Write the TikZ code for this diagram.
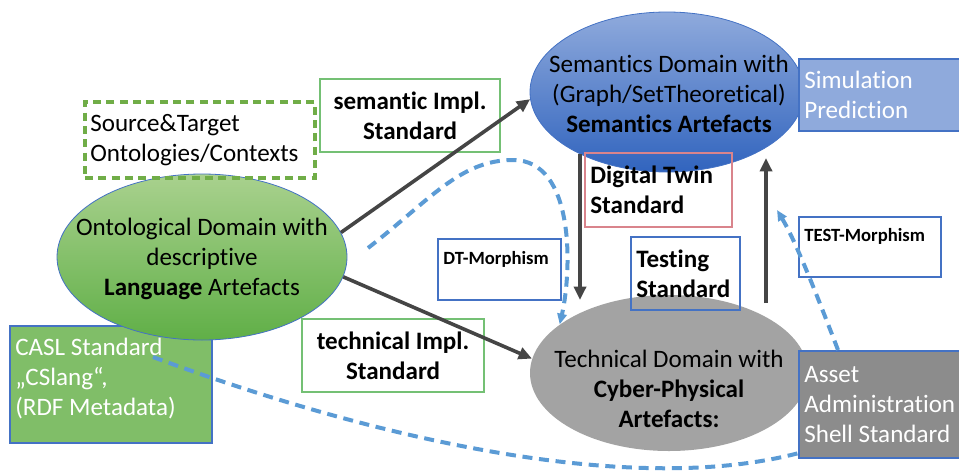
\documentclass[tikz,border=0pt]{standalone}
\usepackage{fontspec}
\setmainfont{Carlito}[Ligatures={NoCommon}]
\usetikzlibrary{shapes.geometric}
\usetikzlibrary{arrows.meta}

\definecolor{semtop}{HTML}{8FAADC}
\definecolor{semmid}{HTML}{7C9BD6}
\definecolor{sembot}{HTML}{3164BE}
\definecolor{onttop}{HTML}{A9D18E}
\definecolor{ontmid}{HTML}{8CC473}
\definecolor{ontbot}{HTML}{60AF47}
\definecolor{tecgray}{HTML}{A3A3A3}
\definecolor{aasgray}{HTML}{8C8C8C}
\definecolor{caslgreen}{HTML}{80BE68}
\definecolor{boxblue}{HTML}{4472C4}
\definecolor{boxgreen}{HTML}{74C074}
\definecolor{dashgreen}{HTML}{70AD47}
\definecolor{boxred}{HTML}{D9848C}
\definecolor{dashblue}{HTML}{5B9BD5}
\definecolor{arrgray}{HTML}{454545}

\begin{document}
\begin{tikzpicture}[x=0.75pt, y=-0.75pt,
    ellip/.style={ellipse, draw=boxblue, line width=0.6pt, inner sep=0pt},
    txt/.style={align=flush center, font=\fontsize{18.8}{22.5}\selectfont},
    bx/.style={rectangle, line width=1.1pt, inner xsep=4pt, inner ysep=0pt, align=flush left,
        font=\fontsize{18.8}{22.5}\selectfont},
    bbx/.style={bx, font=\fontsize{18.8}{22.5}\selectfont\bfseries},
    smallbx/.style={bx, font=\fontsize{14}{18}\selectfont\bfseries},
    flow/.style={-{Triangle[length=10pt,width=9pt]}, line width=2.7pt, draw=arrgray},
    morph/.style={dash pattern=on 7.5pt off 5pt, line width=3pt, draw=dashblue},
    morphtip/.style={-{Triangle[length=8pt,width=7pt]}}
    ]
    \useasboundingbox (0,0) rectangle (959,471);

    % CASL box (below the ontological ellipse)
    \node[bx, draw=boxblue, fill=caslgreen, text=white, text width=143.5pt, minimum height=87.75pt] (casl) at (111,384.5)
        {CASL Standard\\„CSlang“,\\(RDF Metadata)\\[-11pt]\mbox{}};

    % Domains
    \node[ellip, top color=semtop, middle color=semmid, bottom color=sembot, minimum width=205.5pt, minimum height=120pt] (sem) at (667,92) {};
    \node[ellip, top color=onttop, middle color=ontmid, bottom color=ontbot, minimum width=217.5pt, minimum height=124.5pt] (ont) at (202,257) {};
    \node[ellip, draw=none, fill=tecgray, minimum width=208.5pt, minimum height=117pt] (tec) at (669,373) {};

    \node[txt] (semtxt) at (669,94) {Semantics Domain with\\(Graph/SetTheoretical)\\\textbf{Semantics Artefacts}};
    \node[txt] (onttxt) at (202,259) {Ontological Domain with\\descriptive\\\textbf{Language} Artefacts};
    \node[txt] (tectxt) at (669,389) {Technical Domain with\\\textbf{Cyber-Physical}\\\textbf{Artefacts:}};

    % Side boxes
    \node[bx, draw=boxblue, fill=semtop, text=white, text width=116.5pt, minimum height=54pt] (sim) at (882,95)
        {Simulation\\Prediction};
    \node[bx, draw=boxblue, fill=aasgray, text=white, text width=116.5pt, minimum height=80.25pt] (aas) at (882,404.5)
        {Asset\\Administration\\Shell Standard};

    % Standards
    \node[bx, draw=dashgreen, line width=3pt, dash pattern=on 6pt off 4pt, text width=164.5pt, minimum height=57pt] (src) at (200,140)
        {Source\&Target\\Ontologies/Contexts};
    \node[bbx, draw=boxgreen, align=flush center, text width=127pt, minimum height=54.75pt] (semimpl) at (410,115.5)
        {semantic Impl.\\Standard};
    \node[bbx, draw=boxgreen, align=flush center, text width=128.5pt, minimum height=54.75pt] (tecimpl) at (393,355.5)
        {technical Impl.\\Standard};
    \node[bbx, draw=boxred, text width=102.25pt, minimum height=55.5pt] (dtstd) at (658.5,190)
        {Digital Twin\\Standard};
    \node[bbx, draw=boxblue, text width=73.75pt, minimum height=54.75pt] (teststd) at (685.5,273.5)
        {Testing\\Standard};

    % Morphisms
    \node[smallbx, draw=boxblue, text width=84.25pt, minimum height=45.75pt] (dtmor) at (499.5,269.5)
        {DT-Morphism\\\mbox{}};
    \node[smallbx, draw=boxblue, text width=98.5pt, minimum height=45pt] (testmor) at (870,247)
        {TEST-Morphism\\\mbox{}};

    % Implementation arrows
    \draw[flow] (ont.10) -- (sem.183);
    \draw[flow] (ont.-8) -- (tec.174);

    % Vertical arrows
    \coordinate (dtA) at (580,154);
    \coordinate (dtB) at (580,300);
    \coordinate (tsA) at (766,303);
    \coordinate (tsB) at (766,158);
    \draw[flow] (dtA) -- (dtB);
    \draw[flow] (tsA) -- (tsB);

    % Dashed morphism curves
    \coordinate (dtS) at (368,248);
    \coordinate (dtP) at (513,160);
    \draw[morph, morphtip] (dtS) .. controls (430,200) and (460,160) .. (dtP)
        .. controls (575,160) and (572,270) .. (tec.156);
    \coordinate (tmS) at (838,350);
    \coordinate (tmE) at (777,210);
    \draw[morph, morphtip] (tmS) .. controls (815,290) and (795,240) .. (tmE);
    \coordinate (cS) at (153,357);
    \coordinate (cE) at (799,453);
    \draw[morph] (cS) .. controls (350,430) and (620,500) .. (cE);
\end{tikzpicture}
\end{document}
